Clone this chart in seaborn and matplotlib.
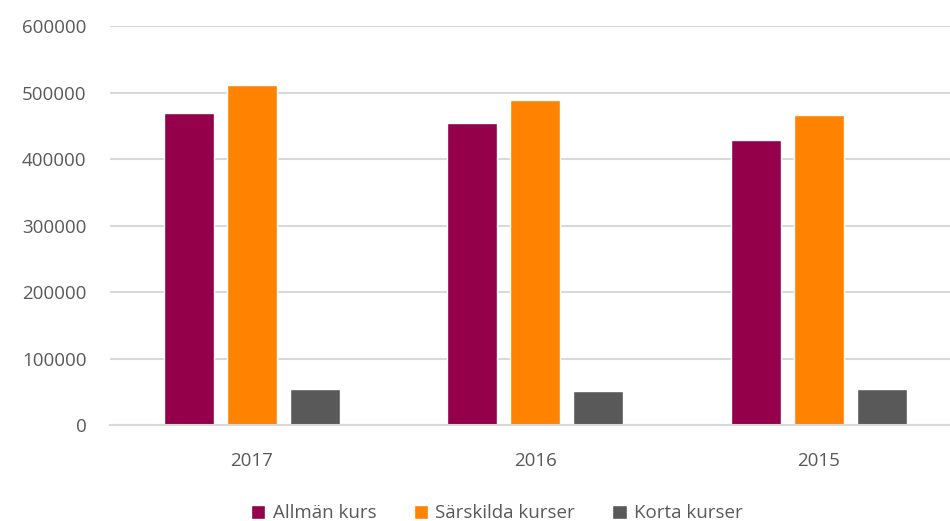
import matplotlib
matplotlib.use("Agg")
import matplotlib.pyplot as plt
import seaborn as sns
import pandas as pd

years = ["2017", "2016", "2015"]
series = ["Allmän kurs", "Särskilda kurser", "Korta kurser"]
allman = [469000, 454000, 428000]
sarskilda = [512000, 489000, 466000]
korta = [54000, 51000, 54000]
colors = ["#940049", "#FF8200", "#595959"]

rows = []
for name, vals in zip(series, [allman, sarskilda, korta]):
    for y, v in zip(years, vals):
        rows.append({"year": y, "serie": name, "value": v})
df = pd.DataFrame(rows)

sns.set_theme(style="white")
plt.rcParams["font.family"] = ["Open Sans", "DejaVu Sans"]

fig = plt.figure(figsize=(9.5, 5.21), dpi=100)
ax = fig.add_axes([0.116, 0.184, 0.895, 0.766])

sns.barplot(data=df, x="year", y="value", hue="serie", order=years,
            hue_order=series, palette=colors, width=0.667, gap=0.21,
            saturation=1, ax=ax, legend=True)

ax.set_ylim(0, 600000)
ax.set_yticks(range(0, 600001, 100000))
ax.set_yticklabels([str(v) for v in range(0, 600001, 100000)])
ax.set_xlim(-0.5, 2.5)
ax.yaxis.grid(True, color="#d9d9d9", linewidth=1.5)
ax.set_axisbelow(True)
for s in ["top", "right", "left"]:
    ax.spines[s].set_visible(False)
ax.spines["bottom"].set_color("#d9d9d9")
ax.spines["bottom"].set_linewidth(1.5)
ax.tick_params(axis="y", length=0, pad=17, labelsize=13.5, labelcolor="#595959")
ax.tick_params(axis="x", length=0, pad=19, labelsize=13.5, labelcolor="#595959")
ax.set_xlabel("")
ax.set_ylabel("")

handles, labels = ax.get_legend_handles_labels()
ax.legend_.remove()
fig.legend(handles, labels, loc="center", bbox_to_anchor=(0.523, 0.015),
           ncol=3, frameon=False, fontsize=13.5, labelcolor="#595959",
           handlelength=0.75, handleheight=0.75, handletextpad=0.4, columnspacing=2.0,
           borderpad=0)

fig.savefig("out.png", dpi=100)
